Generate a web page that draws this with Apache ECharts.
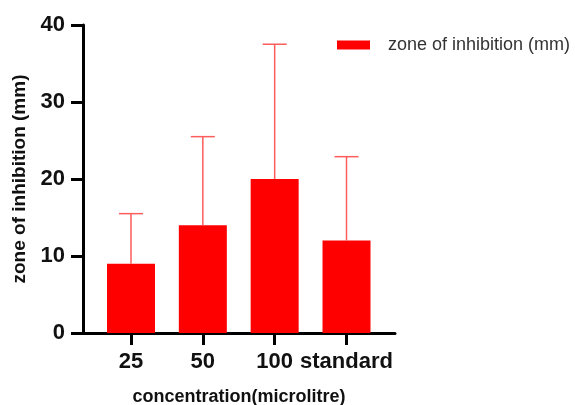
<!DOCTYPE html>
<html>
<head>
<meta charset="utf-8">
<script src="https://cdn.jsdelivr.net/npm/echarts@6/dist/echarts.min.js"></script>
<style>
  html, body { margin: 0; padding: 0; background: #fff; }
  #main { width: 575px; height: 405px; }
</style>
</head>
<body>
<div id="main"></div>
<script>
// categories + values
var categories = ['25', '50', '100', 'standard'];
var means = [9, 14, 20, 12];
var errors = [6.5, 11.5, 17.5, 10.9];   // upper error only

var FONT = '"Liberation Sans", Arial, sans-serif';

var chart = echarts.init(document.getElementById('main'), null, { renderer: 'canvas' });

var barData = means.map(function (v, i) { return [i, v]; });
var errData = means.map(function (v, i) { return [i, v, v + errors[i]]; });

function renderError(params, api) {
  var x = api.value(0);
  var lo = api.coord([x, api.value(1)]);
  var hi = api.coord([x, api.value(2)]);
  var half = 12;
  var st = { stroke: '#ff5c5c', lineWidth: 1.5 };
  return {
    type: 'group',
    children: [
      { type: 'line', shape: { x1: lo[0], y1: lo[1], x2: hi[0], y2: hi[1] }, style: st },
      { type: 'line', shape: { x1: hi[0] - half, y1: hi[1], x2: hi[0] + half, y2: hi[1] }, style: st }
    ]
  };
}

var option = {
  animation: false,
  backgroundColor: '#fff',
  grid: { left: 83, right: 180, top: 25, bottom: 72, containLabel: false, outerBoundsMode: 'none' },
  legend: {
    data: ['zone of inhibition (mm)'],
    left: 332,
    top: 31,
    icon: 'rect',
    itemWidth: 33,
    itemHeight: 9,
    textStyle: { fontFamily: FONT, fontSize: 18, color: '#333', padding: [0, 0, 0, 13] }
  },
  xAxis: {
    type: 'value',
    min: -0.668,
    max: 3.675,
    name: 'concentration(microlitre)',
    nameLocation: 'middle',
    nameGap: 55,
    nameTextStyle: { fontFamily: FONT, fontSize: 18, fontWeight: 'bold', color: '#111' },
    splitLine: { show: false },
    axisLine: { show: true, onZero: false, lineStyle: { color: '#000', width: 3 } },
    axisTick: { show: true, length: 12, lineStyle: { color: '#000', width: 3 }, customValues: [0, 1, 2, 3] },
    axisLabel: {
      customValues: [0, 1, 2, 3],
      margin: 18,
      fontFamily: FONT, fontSize: 22, fontWeight: 'bold', color: '#111',
      formatter: function (v) { return categories[Math.round(v)]; }
    }
  },
  yAxis: {
    type: 'value',
    min: 0,
    max: 40,
    interval: 10,
    name: 'zone of inhibition (mm)',
    nameLocation: 'middle',
    nameGap: 54,
    nameTextStyle: { fontFamily: FONT, fontSize: 19, fontWeight: 'bold', color: '#111' },
    splitLine: { show: false },
    axisLine: { show: true, onZero: false, lineStyle: { color: '#000', width: 3 } },
    axisTick: { show: true, length: 12, lineStyle: { color: '#000', width: 3 } },
    axisLabel: { margin: 18, fontFamily: FONT, fontSize: 22, fontWeight: 'bold', color: '#111' }
  },
  series: [
    {
      name: 'zone of inhibition (mm)',
      type: 'bar',
      barWidth: 48,
      itemStyle: { color: '#ff0000' },
      data: barData
    },
    {
      name: 'error',
      type: 'custom',
      renderItem: renderError,
      encode: { x: 0, y: [1, 2] },
      data: errData,
      z: 3
    }
  ]
};

chart.setOption(option);
</script>
</body>
</html>
